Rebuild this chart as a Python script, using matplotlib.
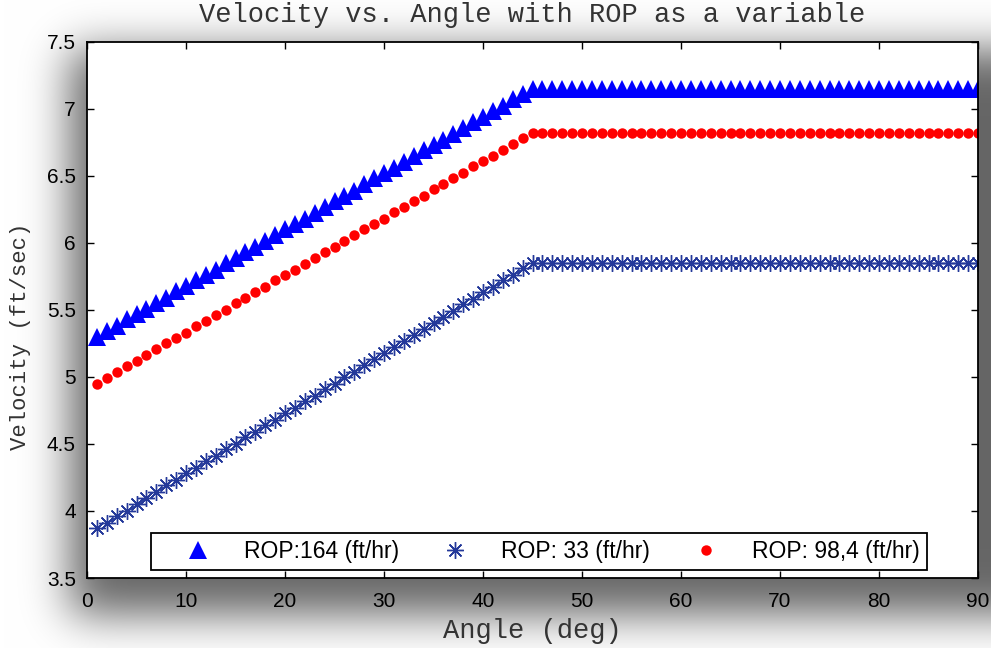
import numpy as np
import matplotlib
matplotlib.use("Agg")
import matplotlib.pyplot as plt
from matplotlib.ticker import FormatStrFormatter, MultipleLocator

# Angle (deg) and velocity (ft/sec) for three rates of penetration
angle = list(range(1, 91))

vel_rop_164 = [
    5.30, 5.34, 5.38, 5.43, 5.47, 5.51, 5.55, 5.59, 5.64, 5.68,
    5.72, 5.76, 5.80, 5.85, 5.89, 5.93, 5.97, 6.01, 6.06, 6.10,
    6.14, 6.18, 6.22, 6.27, 6.31, 6.35, 6.39, 6.44, 6.48, 6.52,
    6.56, 6.60, 6.65, 6.69, 6.73, 6.77, 6.81, 6.86, 6.90, 6.94,
    6.98, 7.02, 7.07, 7.11, 7.15, 7.15, 7.15, 7.15, 7.15, 7.15,
    7.15, 7.15, 7.15, 7.15, 7.15, 7.15, 7.15, 7.15, 7.15, 7.15,
    7.15, 7.15, 7.15, 7.15, 7.15, 7.15, 7.15, 7.15, 7.15, 7.15,
    7.15, 7.15, 7.15, 7.15, 7.15, 7.15, 7.15, 7.15, 7.15, 7.15,
    7.15, 7.15, 7.15, 7.15, 7.15, 7.15, 7.15, 7.15, 7.15, 7.15,
]

vel_rop_33 = [
    3.87, 3.91, 3.96, 4.00, 4.05, 4.10, 4.14, 4.19, 4.23, 4.28,
    4.32, 4.37, 4.41, 4.46, 4.50, 4.55, 4.59, 4.64, 4.68, 4.73,
    4.77, 4.82, 4.86, 4.91, 4.95, 5.00, 5.04, 5.09, 5.13, 5.18,
    5.22, 5.27, 5.31, 5.36, 5.40, 5.45, 5.49, 5.54, 5.58, 5.63,
    5.67, 5.72, 5.76, 5.81, 5.85, 5.85, 5.85, 5.85, 5.85, 5.85,
    5.85, 5.85, 5.85, 5.85, 5.85, 5.85, 5.85, 5.85, 5.85, 5.85,
    5.85, 5.85, 5.85, 5.85, 5.85, 5.85, 5.85, 5.85, 5.85, 5.85,
    5.85, 5.85, 5.85, 5.85, 5.85, 5.85, 5.85, 5.85, 5.85, 5.85,
    5.85, 5.85, 5.85, 5.85, 5.85, 5.85, 5.85, 5.85, 5.85, 5.85,
]

vel_rop_98 = [
    4.95, 4.99, 5.04, 5.08, 5.12, 5.16, 5.21, 5.25, 5.29, 5.33,
    5.38, 5.42, 5.46, 5.50, 5.55, 5.59, 5.63, 5.67, 5.72, 5.76,
    5.80, 5.84, 5.89, 5.93, 5.97, 6.01, 6.06, 6.10, 6.14, 6.18,
    6.23, 6.27, 6.31, 6.35, 6.40, 6.44, 6.48, 6.52, 6.57, 6.61,
    6.65, 6.69, 6.74, 6.78, 6.82, 6.82, 6.82, 6.82, 6.82, 6.82,
    6.82, 6.82, 6.82, 6.82, 6.82, 6.82, 6.82, 6.82, 6.82, 6.82,
    6.82, 6.82, 6.82, 6.82, 6.82, 6.82, 6.82, 6.82, 6.82, 6.82,
    6.82, 6.82, 6.82, 6.82, 6.82, 6.82, 6.82, 6.82, 6.82, 6.82,
    6.82, 6.82, 6.82, 6.82, 6.82, 6.82, 6.82, 6.82, 6.82, 6.82,
]

labels = ["ROP:164 (ft/hr)", "ROP: 33 (ft/hr)", "ROP: 98,4 (ft/hr)"]

W, H, DPI = 991, 648, 100
fig = plt.figure(figsize=(W / DPI, H / DPI), dpi=DPI, facecolor="white")

# Soft drop shadow behind the plotting box
def gaussian_blur(img, sigma):
    r = int(3 * sigma)
    k = np.exp(-0.5 * (np.arange(-r, r + 1) / sigma) ** 2)
    k /= k.sum()
    pad = np.pad(img, r, mode="edge")
    tmp = np.apply_along_axis(lambda v: np.convolve(v, k, mode="valid"), 1, pad)
    out = np.apply_along_axis(lambda v: np.convolve(v, k, mode="valid"), 0, tmp)
    return out

mask = np.zeros((H, W))
mask[50:615, 70:1040] = 1.0
mask = gaussian_blur(mask, 22)
shade = 1.0 - 0.6 * mask
rgba = np.dstack([shade, shade, shade, np.ones_like(shade)])
fig.figimage(rgba, xo=0, yo=0, origin="upper", zorder=0)

left, right = 87 / W, 978 / W
bottom, top = 1 - 578 / H, 1 - 41.7 / H
ax = fig.add_axes([left, bottom, right - left, top - bottom], zorder=1)
ax.set_facecolor("white")

ax.plot(angle, vel_rop_164, linestyle="none", marker="^", markersize=13,
        color="#0000ff", markeredgewidth=0, label=labels[0])
ax.plot(angle, vel_rop_33, linestyle="none", marker=(8, 2, 0), markersize=12,
        color="#24399a", markeredgewidth=1.0, label=labels[1])
ax.plot(angle, vel_rop_98, linestyle="none", marker="o", markersize=7.5,
        color="#ff0000", markeredgewidth=0, label=labels[2])

ax.set_xlim(0, 90)
ax.set_ylim(3.5, 7.5)
ax.xaxis.set_major_locator(MultipleLocator(10))
ax.yaxis.set_major_locator(MultipleLocator(0.5))
ax.yaxis.set_major_formatter(FormatStrFormatter("%g"))

tick_font = "Liberation Sans"
mono_font = "Liberation Mono"
ax.tick_params(direction="in", length=5, width=1, top=True, right=True,
               labelsize=15, colors="black")
ax.tick_params(axis="x", pad=10)
ax.tick_params(axis="y", pad=8)
for lab in ax.get_xticklabels() + ax.get_yticklabels():
    lab.set_fontfamily(tick_font)

for s in ax.spines.values():
    s.set_linewidth(1.3)
    s.set_color("black")

ax.set_title("Velocity vs. Angle with ROP as a variable", fontfamily=mono_font,
             fontsize=19.5, pad=14, color="#333333")
ax.set_xlabel("Angle (deg)", fontfamily=mono_font, fontsize=19.5,
              labelpad=5, color="#333333")
ax.set_ylabel("Velocity (ft/sec)", fontfamily=mono_font, fontsize=16,
              color="#333333")
ax.yaxis.set_label_coords(-0.063, 0.45)

leg = ax.legend(loc="lower left", ncol=3, mode="expand",
                bbox_to_anchor=(0.0718, 0.0149, 0.871, 0.0801),
                borderaxespad=0, fancybox=False, framealpha=1,
                edgecolor="black", prop={"family": tick_font, "size": 16.5},
                handletextpad=0.26, borderpad=0.3, handlelength=3.5,
                columnspacing=0.6)
leg.get_frame().set_linewidth(1.3)

fig.savefig("out.png", dpi=DPI, facecolor="white")
